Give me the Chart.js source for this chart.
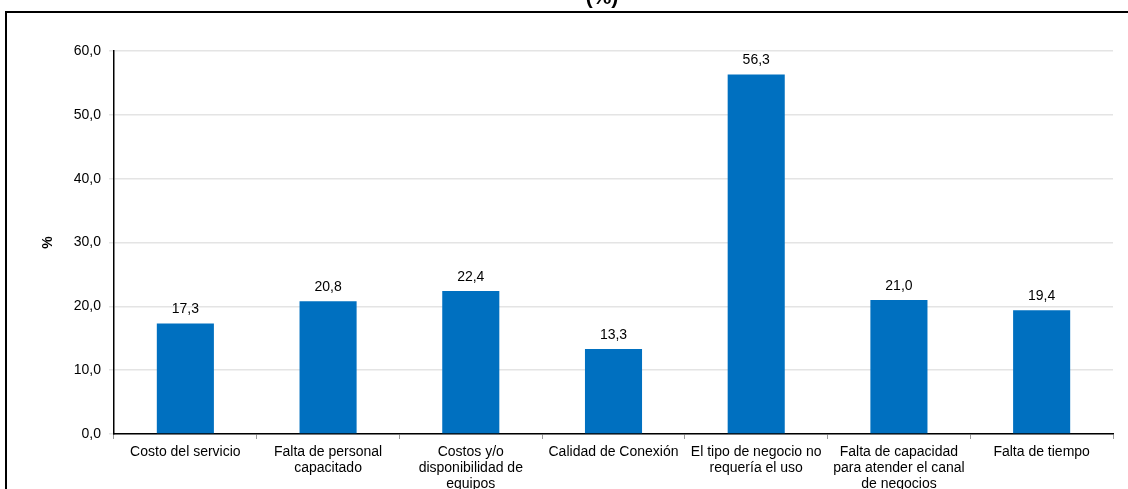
<!DOCTYPE html>
<html>
<head>
<meta charset="utf-8">
<script src="https://cdn.jsdelivr.net/npm/chart.js@4/dist/chart.umd.min.js"></script>
<style>
  html, body { margin: 0; padding: 0; background: #fff; }
  #wrap { position: relative; width: 1128px; height: 489px; overflow: hidden; }
</style>
</head>
<body>
<div id="wrap"><canvas id="barChart" width="1128" height="489"></canvas></div>
<script>
const categories = [
  "Costo del servicio",
  ["Falta de personal", "capacitado"],
  ["Costos y/o", "disponibilidad de", "equipos"],
  "Calidad de Conexión",
  ["El tipo de negocio no", "requería el uso"],
  ["Falta de capacidad", "para atender el canal", "de negocios"],
  "Falta de tiempo",
];
const values = [17.3, 20.8, 22.4, 13.3, 56.3, 21.0, 19.4];
const yTicks = [0, 10, 20, 30, 40, 50, 60];

const FONT = "'Liberation Sans', Arial, sans-serif";
const fmt = (v) => v.toFixed(1).replace(".", ",");

// frame lines + cut-off title
const framePlugin = {
  id: "frame",
  afterDraw(chart) {
    const c = chart.ctx;
    c.save();
    c.strokeStyle = "#000";
    c.lineWidth = 2;
    c.beginPath();
    c.moveTo(1128, 12);
    c.lineTo(6, 12);
    c.lineTo(6, 489);
    c.stroke();
    c.fillStyle = "#000";
    c.font = "bold 21px " + FONT;
    c.textAlign = "center";
    c.textBaseline = "alphabetic";
    c.fillText("(%)", 602, 4);
    c.restore();
  },
};

const valueLabels = {
  id: "valueLabels",
  afterDatasetsDraw(chart) {
    const c = chart.ctx;
    c.save();
    c.fillStyle = "#000";
    c.font = "14px " + FONT;
    c.textAlign = "center";
    c.textBaseline = "bottom";
    chart.getDatasetMeta(0).data.forEach((bar, i) => {
      c.fillText(fmt(values[i]), bar.x, bar.y - 7);
    });
    c.restore();
  },
};

new Chart(document.getElementById("barChart").getContext("2d"), {
  type: "bar",
  data: {
    labels: categories,
    datasets: [
      {
        data: values,
        backgroundColor: "#0070C0",
        barPercentage: 0.4,
        categoryPercentage: 1,
      },
    ],
  },
  options: {
    responsive: false,
    animation: false,
    layout: { padding: { left: 40, right: 15, top: 51, bottom: 0 } },
    plugins: {
      legend: { display: false },
      tooltip: { enabled: false },
    },
    scales: {
      x: {
        grid: {
          display: true,
          drawOnChartArea: false,
          tickLength: 5,
          color: "#9a9a9a",
        },
        border: { color: "#000", width: 1.5 },
        ticks: {
          color: "#000",
          font: { family: FONT, size: 14, lineHeight: 1.15 },
          padding: 5,
          maxRotation: 0,
          autoSkip: false,
        },
        afterFit(scale) { scale.height = 55; },
      },
      y: {
        min: 0,
        max: 60,
        afterBuildTicks(scale) { scale.ticks = yTicks.map((v) => ({ value: v })); },
        grid: { color: "#e4e4e4", lineWidth: 1.5, tickLength: 5 },
        border: { color: "#000", width: 1.5 },
        ticks: {
          color: "#000",
          font: { family: FONT, size: 14 },
          padding: 8,
          callback: (v) => fmt(v),
        },
        title: {
          display: true,
          text: "%",
          color: "#000",
          font: { family: FONT, size: 14, weight: "bold" },
          padding: 0,
        },
        afterFit(scale) { scale.width = 74; },
      },
    },
  },
  plugins: [framePlugin, valueLabels],
});
</script>
</body>
</html>
